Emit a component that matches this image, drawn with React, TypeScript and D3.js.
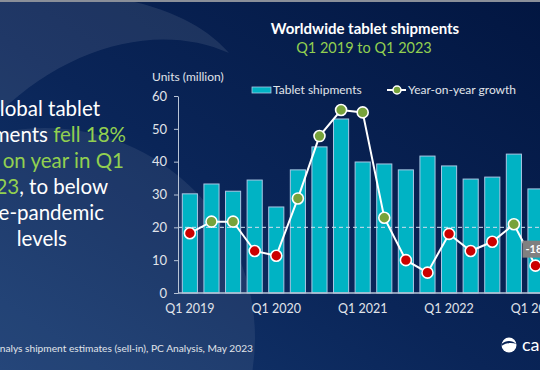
import { useEffect, useRef } from "react";
import * as d3 from "d3";

const W = 540;
const H = 370;
const FONT = "Lato, 'Open Sans', sans-serif";

const quarters = [
  "Q1 2019", "Q2 2019", "Q3 2019", "Q4 2019",
  "Q1 2020", "Q2 2020", "Q3 2020", "Q4 2020",
  "Q1 2021", "Q2 2021", "Q3 2021", "Q4 2021",
  "Q1 2022", "Q2 2022", "Q3 2022", "Q4 2022",
  "Q1 2023",
];
// units, million
const shipments = [30.2, 33.2, 31.0, 34.4, 26.2, 37.5, 44.5, 53.0, 39.9, 39.3, 37.5, 41.7, 38.7, 34.7, 35.3, 42.3, 31.7];
// year-on-year growth, %
const growth = [-2.7, 2.6, 2.6, -10.8, -13.0, 13.2, 41.7, 53.6, 52.5, 4.4, -15.0, -20.7, -3.0, -10.8, -6.6, 1.4, -17.5];
const yTicks = [0, 10, 20, 30, 40, 50, 60];
const xTickLabels = ["Q1 2019", "Q1 2020", "Q1 2021", "Q1 2022", "Q1 2023"];

const MARGIN = { top: 96, bottom: 293, left: 178 };
const STEP = 21.6;

export default function App() {
  const yAxisRef = useRef<SVGGElement>(null);
  const xAxisRef = useRef<SVGGElement>(null);

  const xScale = d3
    .scaleBand<string>()
    .domain(quarters)
    .range([MARGIN.left, MARGIN.left + STEP * (quarters.length - 0.3 + 0.4)])
    .paddingInner(0.3)
    .paddingOuter(0.2);

  const yScale = d3.scaleLinear().domain([0, 60]).range([MARGIN.bottom, MARGIN.top]);
  // hidden secondary axis for growth
  const gScale = d3.scaleLinear().domain([-30, 60]).range([MARGIN.bottom, MARGIN.top]);

  const cx = (q: string) => (xScale(q) ?? 0) + xScale.bandwidth() / 2;

  useEffect(() => {
    const ya = d3.select(yAxisRef.current);
    ya.selectAll("*").remove();
    ya.call(
      d3.axisLeft(yScale).tickValues(yTicks).tickSize(4).tickSizeOuter(0).tickPadding(7)
    );
    ya.select(".domain").attr("stroke", "#b8c4d6");
    ya.selectAll(".tick line").attr("stroke", "#b8c4d6");
    ya.selectAll(".tick text")
      .attr("fill", "#e0e4ea")
      .style("font-family", FONT)
      .style("font-size", "13px");

    const xa = d3.select(xAxisRef.current);
    xa.selectAll("*").remove();
    xa.call(d3.axisBottom(xScale).tickValues(xTickLabels).tickSize(0).tickPadding(11));
    xa.select(".domain").remove();
    xa.selectAll(".tick text")
      .attr("fill", "#e0e4ea")
      .style("font-family", FONT)
      .style("font-size", "12.5px");
  }, []);

  const line = d3
    .line<number>()
    .x((_, i) => cx(quarters[i]))
    .y((d) => gScale(d));

  const last = quarters.length - 1;
  const lx = cx(quarters[last]);
  const ly = gScale(growth[last]);

  return (
    <svg
      width={W}
      height={H}
      style={{ position: "absolute", left: 0, top: 0 }}
      fontFamily={FONT}
    >
      <defs>
        <linearGradient id="bg" x1="1" y1="0" x2="0" y2="1">
          <stop offset="0" stopColor="#021641" />
          <stop offset="0.55" stopColor="#0a2558" />
          <stop offset="1" stopColor="#143870" />
        </linearGradient>
      </defs>
      <rect width={W} height={H} fill="url(#bg)" />
      <path
        d="M0,0 L125,0 C178,10 212,33 229,53 C160,22 70,45 0,112 Z"
        fill="#ffffff"
        opacity={0.09}
      />
      <circle cx={45} cy={338} r={210} fill="#ffffff" opacity={0.075} />
      <rect width={W} height={2} fill="#8a8f99" />

      {/* left commentary */}
      <g fontSize={20.5} fill="#ffffff" textAnchor="end">
        <text x={100} y={116}>Global tablet</text>
        <text x={126} y={142}>
          shipments <tspan fill="#92d050">fell 18%</tspan>
        </text>
        <text x={124} y={168} fill="#92d050">year on year in Q1</text>
        <text x={108} y={194}>
          <tspan fill="#92d050">2023</tspan>, to below
        </text>
        <text x={104} y={220}>pre-pandemic</text>
        <text x={67} y={246}>levels</text>
      </g>

      {/* titles */}
      <text x={365} y={34} textAnchor="middle" fontSize={15} fontWeight="bold" fill="#ffffff">
        Worldwide tablet shipments
      </text>
      <text x={364} y={53} textAnchor="middle" fontSize={14.5} fill="#92d050">
        Q1 2019 to Q1 2023
      </text>
      <text x={152} y={81} fontSize={12} fill="#e0e4ea">
        Units (million)
      </text>

      {/* legend */}
      <rect x={252} y={87} width={19} height={6} fill="#00b3c4" stroke="#a9c7e4" strokeWidth={0.8} />
      <text x={273} y={94} fontSize={12} fill="#e0e4ea">Tablet shipments</text>
      <line x1={387} x2={406} y1={90} y2={90} stroke="#ffffff" strokeWidth={2} />
      <circle cx={397} cy={90} r={4} fill="#77a33b" stroke="#ffffff" strokeWidth={1.5} />
      <text x={408} y={94} fontSize={12} fill="#e0e4ea">Year-on-year growth</text>

      {/* bars */}
      {shipments.map((v, i) => (
        <rect
          key={quarters[i]}
          x={xScale(quarters[i])}
          y={yScale(v)}
          width={xScale.bandwidth()}
          height={yScale(0) - yScale(v)}
          fill="#00b3c4"
          stroke="#a9c7e4"
          strokeWidth={1}
        />
      ))}

      {/* zero-growth reference */}
      <line
        x1={MARGIN.left}
        x2={W}
        y1={gScale(0)}
        y2={gScale(0)}
        stroke="#cfe0f0"
        strokeWidth={1}
        strokeDasharray="4,3"
      />

      <line x1={MARGIN.left} x2={W} y1={yScale(0)} y2={yScale(0)} stroke="#b8c4d6" strokeWidth={1.5} />
      <g ref={yAxisRef} transform={`translate(${MARGIN.left},0)`} />
      <g ref={xAxisRef} transform={`translate(0,${MARGIN.bottom})`} />

      {/* growth line */}
      <path d={line(growth) ?? ""} fill="none" stroke="#ffffff" strokeWidth={2} />
      {growth.map((g, i) => (
        <circle
          key={quarters[i]}
          cx={cx(quarters[i])}
          cy={gScale(g)}
          r={5.5}
          fill={g > 0 ? "#77a33b" : "#cc0000"}
          stroke="#ffffff"
          strokeWidth={1.6}
        />
      ))}

      {/* callout */}
      <rect x={lx - 13} y={ly - 25} width={30} height={17} fill="#808080" />
      <text x={lx - 10} y={ly - 12.5} fontSize={11} fontWeight="bold" fill="#ffffff">
        -18%
      </text>

      {/* footnote */}
      <text x={253} y={352} textAnchor="end" fontSize={10.2} fill="#e0e4ea">
        Source: Canalys shipment estimates (sell-in), PC Analysis, May 2023
      </text>

      {/* logo */}
      <g transform="translate(509,345)">
        <circle r={7.5} fill="#ffffff" />
        <path d="M-7.5,-1 C-3,-5 3,-5 7.5,-1 C3,-2.5 -3,-2.5 -7.5,1 Z" fill="#0a2558" />
        <path d="M-3,-7.4 C-6,-5 -7,-3 -7.5,-1 L-7.5,-7.5 Z" fill="#0a2558" />
      </g>
      <text x={522} y={351} fontSize={18} fill="#ffffff">canalys</text>
    </svg>
  );
}
